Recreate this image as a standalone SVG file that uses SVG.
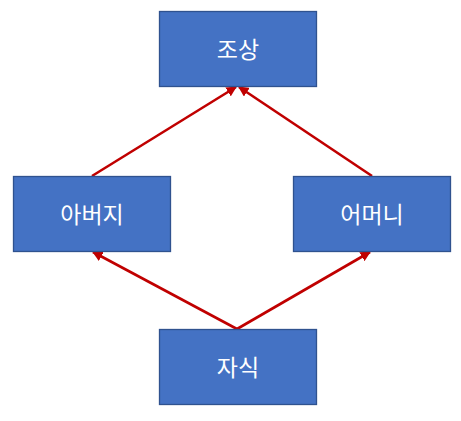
<svg xmlns="http://www.w3.org/2000/svg" width="461" height="421" viewBox="0 0 461 421">
<style>
.box{fill:#4472C4;stroke:#2F528F;stroke-width:1.3}
.lbl{fill:#ffffff;font-family:"Noto Sans CJK KR","Liberation Sans",sans-serif;font-size:23px;text-anchor:middle;dominant-baseline:central}
.edge{stroke:#C00000;stroke-width:2.6;fill:none;marker-end:url(#ah)}
</style>
<defs>
<marker id="ah" viewBox="0 0 10 10" refX="9" refY="5" markerWidth="4" markerHeight="4" orient="auto" markerUnits="strokeWidth">
<path d="M0,0 L10,5 L0,10 z" fill="#C00000"/>
</marker>
</defs>
<rect width="461" height="421" fill="#ffffff"/>
<g id="connectors">
<line class="edge" x1="92" y1="176" x2="236" y2="87"/>
<line class="edge" x1="372" y1="176" x2="239" y2="87"/>
<line class="edge" x1="237" y1="329" x2="93" y2="252"/>
<line class="edge" x1="237" y1="329" x2="370" y2="252"/>
</g>
<g id="node-ancestor">
<rect class="box" x="159.5" y="11.5" width="157" height="75"/>
<text class="lbl" x="238" y="48">조상</text>
</g>
<g id="node-father">
<rect class="box" x="13.5" y="176.5" width="157" height="75"/>
<text class="lbl" x="92" y="213">아버지</text>
</g>
<g id="node-mother">
<rect class="box" x="293.5" y="176.5" width="157" height="75"/>
<text class="lbl" x="372" y="213">어머니</text>
</g>
<g id="node-child">
<rect class="box" x="159.5" y="329.5" width="157" height="75"/>
<text class="lbl" x="238" y="366">자식</text>
</g>
</svg>
